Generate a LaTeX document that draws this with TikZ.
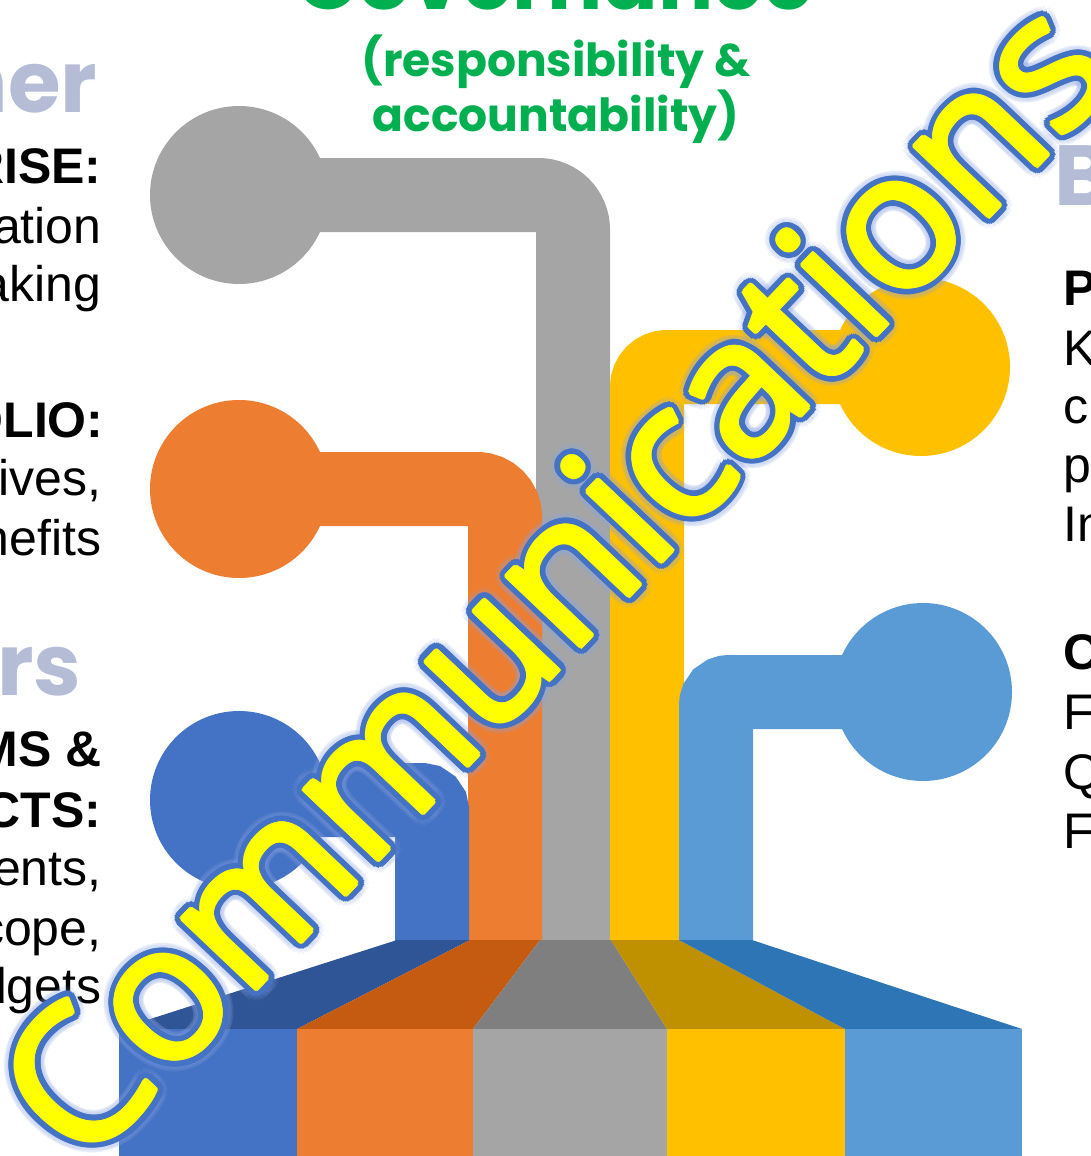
\documentclass[tikz,border=0pt]{standalone}
\usepackage{fontspec}
\setmainfont{Liberation Sans}
\newfontfamily\geofont{Poppins}
\newfontfamily\artfont{Open Sans}
\usetikzlibrary{calc}

\definecolor{cgray}{RGB}{165,165,165}
\definecolor{dgray}{RGB}{127,127,127}
\definecolor{corange}{RGB}{237,125,49}
\definecolor{dorange}{RGB}{197,90,17}
\definecolor{cblue}{RGB}{68,114,196}
\definecolor{dblue}{RGB}{47,85,151}
\definecolor{cyellow}{RGB}{255,192,0}
\definecolor{dyellow}{RGB}{191,144,0}
\definecolor{clblue}{RGB}{91,155,213}
\definecolor{dlblue}{RGB}{46,117,182}
\definecolor{cgreen}{RGB}{0,176,80}
\definecolor{lilac}{RGB}{180,188,214}
\definecolor{wordfill}{RGB}{255,255,0}
\definecolor{wordglow}{RGB}{140,165,225}

\tikzset{every picture/.style={line width=0.75pt}}
\tikzset{
  dot/.style={circle, inner sep=0pt, minimum size=133.5pt},
  pipe/.style={line width=55.5pt},
  lefttxt/.style={anchor=base east, inner sep=0pt, font=\fontsize{37.5}{45}\selectfont},
  leftbold/.style={lefttxt, font=\fontsize{37.5}{45}\selectfont\bfseries},
  righttxt/.style={anchor=base west, inner sep=0pt, font=\fontsize{37.5}{45}\selectfont},
  rightbold/.style={righttxt, font=\fontsize{37.5}{45}\selectfont\bfseries},
  bigtxt/.style={inner sep=0pt, text=lilac, font=\geofont\fontsize{64}{70}\selectfont\bfseries},
  greentxt/.style={anchor=base, inner sep=0pt, text=cgreen, font=\geofont\fontsize{34.2}{40}\selectfont\bfseries},
  commtext/.style={anchor=base west, inner sep=0pt, rotate=46.5, font=\artfont\fontsize{143}{143}\selectfont}
}

\begin{document}
\begin{tikzpicture}[x=0.75pt,y=0.75pt,yscale=-1,xscale=1]
	\useasboundingbox (0,0) rectangle (1091,1156);
	\clip (0,0) rectangle (1091,1156);
	
	%Pipe: gray [governance]
	\node[dot, fill=cgray] (govdot) at (239,195) {};
	\coordinate (govfoot) at (573,941);
	\draw[pipe, cgray, rounded corners=26pt] (govdot.center) -| (govfoot);
	%Pipe: orange [portfolio]
	\node[dot, fill=corange] (portdot) at (239,489) {};
	\coordinate (portfoot) at (505,941);
	\draw[pipe, corange, rounded corners=21pt] (portdot.center) -| (portfoot);
	%Pipe: blue [programs]
	\node[dot, fill=cblue] (progdot) at (239,800) {};
	\coordinate (progfoot) at (432,941);
	\draw[pipe, cblue, rounded corners=8pt] (progdot.center) -| (progfoot);
	%Pipe: yellow
	\node[dot, fill=cyellow] (perfdot) at (921,367) {};
	\coordinate (perffoot) at (647,941);
	\draw[pipe, cyellow, rounded corners=15pt] (perfdot.center) -| (perffoot);
	%Pipe: light blue
	\node[dot, fill=clblue] (ctrldot) at (923,692) {};
	\coordinate (ctrlfoot) at (716,941);
	\draw[pipe, clblue, rounded corners=10pt] (ctrldot.center) -| (ctrlfoot);
	
	%Shape: slanted band
	\fill[dblue] (397,940) -- (470,940) -- (297,1029) -- (119,1029) -- cycle;
	\fill[dorange] (470,940) -- (540,940) -- (473,1029) -- (297,1029) -- cycle;
	\fill[dgray] (540,940) -- (611,940) -- (667,1029) -- (473,1029) -- cycle;
	\fill[dyellow] (611,940) -- (679,940) -- (845,1029) -- (667,1029) -- cycle;
	\fill[dlblue] (679,940) -- (752,940) -- (1022,1029) -- (845,1029) -- cycle;
	%Shape: base blocks
	\fill[cblue] (119,1029) rectangle (297,1156);
	\fill[corange] (297,1029) rectangle (473,1156);
	\fill[cgray] (473,1029) rectangle (667,1156);
	\fill[cyellow] (667,1029) rectangle (845,1156);
	\fill[clblue] (845,1029) rectangle (1022,1156);
	
	% Text Node
	\node[greentxt, font=\geofont\fontsize{61.5}{70}\selectfont\bfseries] (govtitle) at (555,10) {Governance};
	% Text Node
	\node[greentxt] (govsub1) at (556,77) {(responsibility \&};
	% Text Node
	\node[greentxt] (govsub2) at (556,132) {accountability)};
	
	% Text Node
	\node[bigtxt, anchor=base east] (lhead1) at (98,113) {ner};
	% Text Node
	\node[leftbold] (ltxt1) at (102,183) {RISE:};
	\node[lefttxt] (ltxt2) at (102,243) {ation};
	\node[lefttxt] (ltxt3) at (102,301) {aking};
	% Text Node
	\node[leftbold] (ltxt4) at (104,437) {OLIO:};
	\node[lefttxt] (ltxt5) at (102,495) {ives,};
	\node[lefttxt] (ltxt6) at (102,555) {nefits};
	% Text Node
	\node[bigtxt, anchor=base east] (lhead2) at (82,695) {ors};
	% Text Node
	\node[leftbold] (ltxt7) at (102,766) {MS \&};
	\node[leftbold] (ltxt8) at (102,827) {CTS:};
	\node[lefttxt] (ltxt9) at (102,885) {ents,};
	\node[lefttxt] (ltxt10) at (102,945) {cope,};
	\node[lefttxt] (ltxt11) at (102,1003) {dgets};
	
	% Text Node
	\node[bigtxt, anchor=base west] (rhead1) at (1054,205) {B};
	% Text Node
	\node[rightbold] (rtxt1) at (1063,305) {P};
	\node[righttxt] (rtxt2) at (1063,365) {K};
	\node[righttxt] (rtxt3) at (1063,423) {c};
	\node[righttxt] (rtxt4) at (1063,482) {p};
	\node[righttxt] (rtxt5) at (1063,541) {In};
	% Text Node
	\node[rightbold] (rtxt6) at (1063,669) {C};
	\node[righttxt] (rtxt7) at (1063,729) {F};
	\node[righttxt] (rtxt8) at (1063,789) {Q};
	\node[righttxt] (rtxt9) at (1063,848) {F};
	
	%WordArt: glow, outline, thickened fill
	\coordinate (commstart) at (83,1172);
	\foreach \a in {0,20,...,340}{
		\node[commtext, text=wordglow, opacity=0.12] (commglow\a) at ($(commstart)+(\a:13)$) {Communications};
	}
	\foreach \a in {0,15,...,345}{
		\node[commtext, text=cblue] (commline\a) at ($(commstart)+(\a:8)$) {Communications};
	}
	\foreach \a in {0,30,...,330}{
		\node[commtext, text=wordfill] (commfill\a) at ($(commstart)+(\a:2.5)$) {Communications};
	}
	\node[commtext, text=wordfill] (comm) at (commstart) {Communications};
	
\end{tikzpicture}
\end{document}
